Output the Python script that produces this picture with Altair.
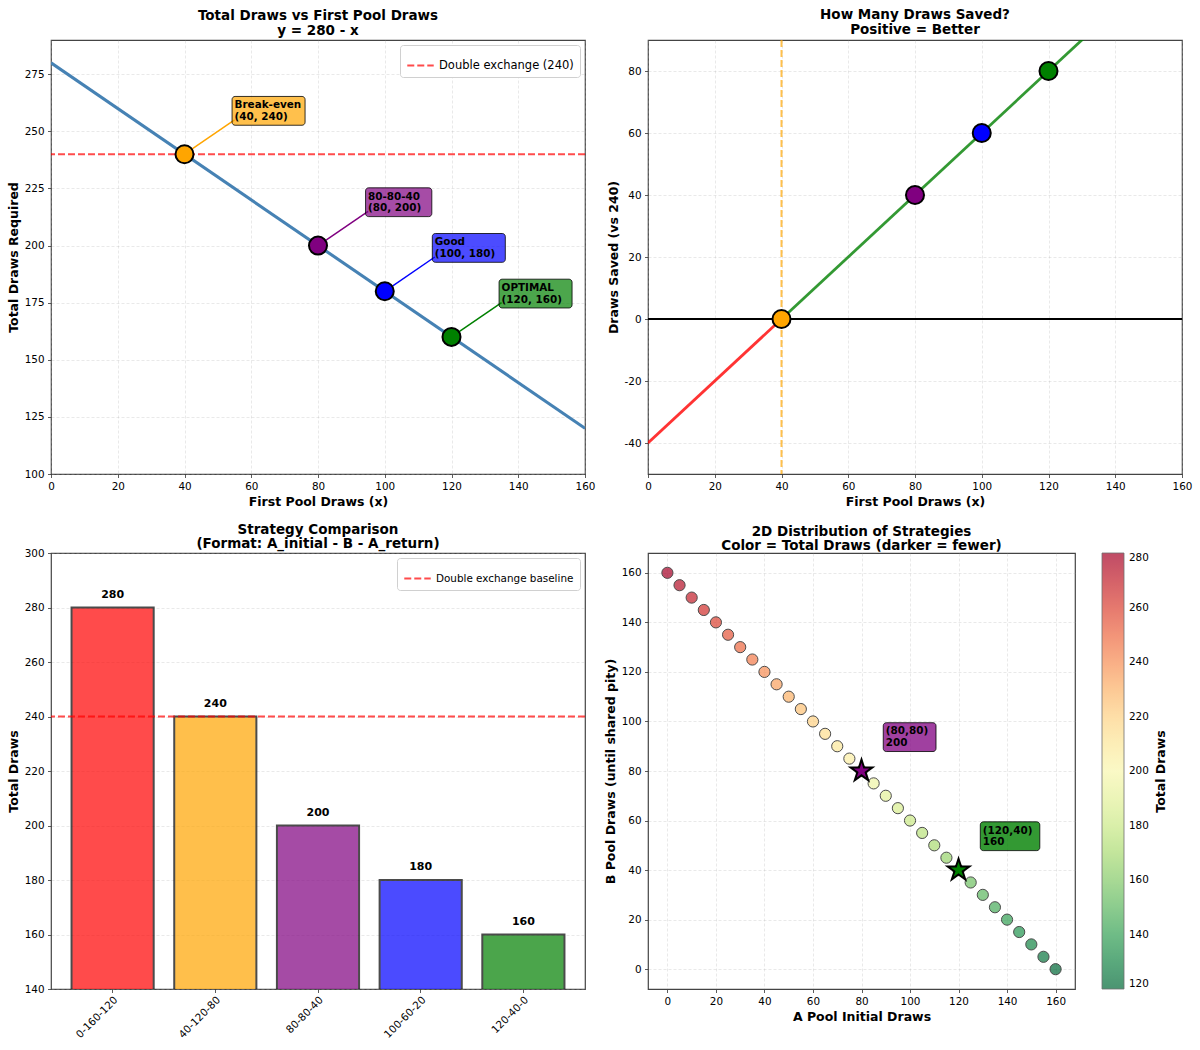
import math

import altair as alt
import pandas as pd

# ------------------------------------------------------------------ data
first_pool_span = [0, 160]
total_on_span = [280, 120]
double_exchange = 240

key_first_pool = [40, 80, 100, 120]
key_total = [240, 200, 180, 160]
key_saved = [0, 40, 60, 80]
key_names = ["Break-even", "80-80-40", "Good", "OPTIMAL"]
key_colors = ["orange", "purple", "blue", "green"]

loss_first_pool = [0, 40]
loss_saved = [-40, 0]
gain_first_pool = [40, 160]
gain_saved = [0, 120]

strategy_labels = ["0-160-120", "40-120-80", "80-80-40", "100-60-20", "120-40-0"]
strategy_totals = [280, 240, 200, 180, 160]
strategy_colors = ["red", "orange", "purple", "blue", "green"]

a_pool_initial = [0, 5, 10, 15, 20, 25, 30, 35, 40, 45, 50, 55, 60, 65, 70, 75, 80,
                  85, 90, 95, 100, 105, 110, 115, 120, 125, 130, 135, 140, 145, 150, 155, 160]
b_pool_draws = [160, 155, 150, 145, 140, 135, 130, 125, 120, 115, 110, 105, 100, 95, 90, 85, 80,
                75, 70, 65, 60, 55, 50, 45, 40, 35, 30, 25, 20, 15, 10, 5, 0]
pool_totals = [280, 275, 270, 265, 260, 255, 250, 245, 240, 235, 230, 225, 220, 215, 210, 205, 200,
               195, 190, 185, 180, 175, 170, 165, 160, 155, 150, 145, 140, 135, 130, 125, 120]

star_a = [80, 120]
star_b = [80, 40]
star_totals = [200, 160]
star_colors = ["purple", "green"]

# tick labels
draw_ticks = [0, 20, 40, 60, 80, 100, 120, 140, 160]
total_ticks = [100, 125, 150, 175, 200, 225, 250, 275]
saved_ticks = [-40, -20, 0, 20, 40, 60, 80]
bar_ticks = [140, 160, 180, 200, 220, 240, 260, 280, 300]
colorbar_ticks = [120, 140, 160, 180, 200, 220, 240, 260, 280]

# ------------------------------------------------------------------ style
FONT = "DejaVu Sans"
PLOT_W = 534
SCATTER_W = 427
TOP_H = 434
BOTTOM_H = 436
TICK_FS = 10.4
AXIS_TITLE_FS = 12.5
TITLE_FS = 13.5
NOTE_FS = 10.4
NOTE_LINE = 11.8
NOTE_CHAR_W = 6.75


def star_path(inner=0.381966):
    pts = []
    for i in range(10):
        ang = math.radians(-90 + 36 * i)
        r = 1.0 if i % 2 == 0 else inner
        pts.append(f"{r * math.cos(ang):.4f},{r * math.sin(ang):.4f}")
    return "M" + " L".join(pts) + " Z"


def panel_title(lines, offset=3):
    return alt.TitleParams(text=lines, anchor="middle", frame="group", fontSize=TITLE_FS,
                           fontWeight="bold", font=FONT, offset=offset, lineHeight=14.5, color="black")


def quant(channel, field, domain, ticks, title, grid=True):
    axis = alt.Axis(values=ticks, title=title, grid=grid, labelExpr="toString(datum.value)")
    return channel(f"{field}:Q", scale=alt.Scale(domain=domain, nice=False, zero=False), axis=axis)


def note(lx, ly, lines, fill, enc_x, enc_y, fill_opacity=0.7):
    """Two-line bold label inside a rounded box; last baseline sits at (lx, ly)."""
    width = max(len(s) for s in lines) * NOTE_CHAR_W
    df = pd.DataFrame({"lx": [lx], "ly": [ly], "top": [lines[0]], "bottom": [lines[1]]})
    base = alt.Chart(df)
    box = base.mark_rect(fill=fill, fillOpacity=fill_opacity, stroke="black", strokeWidth=0.8,
                         cornerRadius=3, xOffset=-2.5, x2Offset=width + 3,
                         yOffset=5.3, y2Offset=-23.5).encode(
        x=enc_x("lx"), x2=alt.X2("lx"), y=enc_y("ly"), y2=alt.Y2("ly"))
    txt = dict(align="left", baseline="alphabetic", font=FONT, fontSize=NOTE_FS,
               fontWeight="bold", color="black")
    t1 = base.mark_text(dy=-NOTE_LINE, **txt).encode(x=enc_x("lx"), y=enc_y("ly"), text="top:N")
    t2 = base.mark_text(**txt).encode(x=enc_x("lx"), y=enc_y("ly"), text="bottom:N")
    return [box, t1, t2]


def dashed_legend(font_size):
    return alt.Legend(title=None, orient="top-right", offset=5, padding=6,
                      symbolType="stroke", symbolDash=[7, 3], symbolStrokeWidth=2,
                      symbolSize=700, symbolOpacity=0.7, labelFontSize=font_size,
                      fillColor="white", strokeColor="#d0d0d0", cornerRadius=3)


# ------------------------------------------------------------------ panel 1: total vs first pool
def tl_x(f):
    return quant(alt.X, f, [0, 160], draw_ticks, "First Pool Draws (x)")


def tl_y(f):
    return quant(alt.Y, f, [100, 290], total_ticks, "Total Draws Required")


line_df = pd.DataFrame({"x": first_pool_span, "y": total_on_span})
key_df = pd.DataFrame({
    "x": key_first_pool, "y": key_total, "saved": key_saved, "color": key_colors,
    "lx": [v + 15 for v in key_first_pool], "ly": [v + 15 for v in key_total],
})
base_df = pd.DataFrame({"y": [double_exchange], "label": [f"Double exchange ({double_exchange})"]})

tl_layers = [
    alt.Chart(line_df).mark_line(color="steelblue", strokeWidth=3.1, clip=True).encode(
        x=tl_x("x"), y=tl_y("y")),
    alt.Chart(base_df).mark_rule(strokeDash=[7, 3], strokeWidth=2, opacity=0.7).encode(
        y=tl_y("y"),
        color=alt.Color("label:N", scale=alt.Scale(range=["red"]), legend=dashed_legend(11.5))),
    alt.Chart(key_df).mark_rule(strokeWidth=1.5).encode(
        x=tl_x("x"), y=tl_y("y"), x2=alt.X2("lx"), y2=alt.Y2("ly"),
        stroke=alt.Stroke("color:N", scale=None)),
    alt.Chart(key_df).mark_point(filled=True, size=325, stroke="black", strokeWidth=2, opacity=1).encode(
        x=tl_x("x"), y=tl_y("y"), fill=alt.Fill("color:N", scale=None)),
]
for name, xv, yv, col in zip(key_names, key_first_pool, key_total, key_colors):
    tl_layers += note(xv + 15, yv + 15, [name, f"({xv}, {yv})"], col, tl_x, tl_y)

tl = alt.layer(*tl_layers).properties(
    width=PLOT_W, height=TOP_H, title=panel_title(["Total Draws vs First Pool Draws", "y = 280 - x"]))


# ------------------------------------------------------------------ panel 2: draws saved
def tr_x(f):
    return quant(alt.X, f, [0, 160], draw_ticks, "First Pool Draws (x)")


def tr_y(f):
    return quant(alt.Y, f, [-50, 90], saved_ticks, "Draws Saved (vs 240)")


loss_df = pd.DataFrame({"x": loss_first_pool, "y": loss_saved})
gain_df = pd.DataFrame({"x": gain_first_pool, "y": gain_saved})
zero_df = pd.DataFrame({"y": [0]})
even_df = pd.DataFrame({"x": [key_first_pool[0]]})

tr = alt.layer(
    alt.Chart(even_df).mark_rule(color="orange", strokeDash=[7, 3], strokeWidth=2, opacity=0.7).encode(
        x=tr_x("x")),
    alt.Chart(zero_df).mark_rule(color="black", strokeWidth=2).encode(y=tr_y("y")),
    alt.Chart(loss_df).mark_line(color="red", strokeWidth=2.8, opacity=0.8, clip=True).encode(
        x=tr_x("x"), y=tr_y("y")),
    alt.Chart(gain_df).mark_line(color="green", strokeWidth=2.8, opacity=0.8, clip=True).encode(
        x=tr_x("x"), y=tr_y("y")),
    alt.Chart(key_df).mark_point(filled=True, size=325, stroke="black", strokeWidth=2, opacity=1).encode(
        x=tr_x("x"), y=tr_y("saved"), fill=alt.Fill("color:N", scale=None)),
).properties(width=PLOT_W, height=TOP_H,
             title=panel_title(["How Many Draws Saved?", "Positive = Better"]))

# ------------------------------------------------------------------ panel 3: strategy bars
bar_df = pd.DataFrame({"strategy": strategy_labels, "total": strategy_totals, "color": strategy_colors})
bar_x = alt.X("strategy:N", sort=strategy_labels,
              scale=alt.Scale(paddingInner=0.2, paddingOuter=0.2),
              axis=alt.Axis(title=None, labelAngle=-45, labelAlign="right", labelBaseline="top",
                            grid=False, labelPadding=2))


def bl_y(f):
    return quant(alt.Y, f, [140, 300], bar_ticks, "Total Draws")


bl_base_df = pd.DataFrame({"y": [double_exchange], "label": ["Double exchange baseline"]})
bl = alt.layer(
    alt.Chart(bar_df).mark_bar(opacity=0.7, stroke="black", strokeWidth=2, clip=True).encode(
        x=bar_x, y=bl_y("total"), fill=alt.Fill("color:N", scale=None)),
    alt.Chart(bl_base_df).mark_rule(strokeDash=[7, 3], strokeWidth=2, opacity=0.7).encode(
        y=bl_y("y"),
        color=alt.Color("label:N", scale=alt.Scale(range=["red"]), legend=dashed_legend(10.4))),
    alt.Chart(bar_df).mark_text(baseline="bottom", dy=-8, font=FONT, fontSize=11,
                                fontWeight="bold", color="black").encode(
        x=bar_x, y=bl_y("total"), text=alt.Text("total:Q", format="d")),
).properties(width=PLOT_W, height=BOTTOM_H,
             title=panel_title(["Strategy Comparison", "(Format: A_initial - B - A_return)"], offset=-2.5))


# ------------------------------------------------------------------ panel 4: 2D distribution
def br_x(f):
    return quant(alt.X, f, [-8, 168], draw_ticks, "A Pool Initial Draws")


def br_y(f):
    return quant(alt.Y, f, [-8, 168], draw_ticks, "B Pool Draws (until shared pity)")


pool_df = pd.DataFrame({"a": a_pool_initial, "b": b_pool_draws, "total": pool_totals})
star_df = pd.DataFrame({"a": star_a, "b": star_b, "total": star_totals, "color": star_colors})

total_scale = alt.Scale(scheme="redyellowgreen", reverse=True, domain=[120, 280])

br_layers = [
    alt.Chart(pool_df).mark_point(shape="circle", filled=True, size=125, opacity=0.7,
                                  stroke="black", strokeWidth=1).encode(
        x=br_x("a"), y=br_y("b"),
        color=alt.Color("total:Q", scale=total_scale,
                        legend=alt.Legend(title=None, orient="none", legendX=SCATTER_W + 27, legendY=0,
                                          padding=0, direction="vertical",
                                          gradientLength=BOTTOM_H, gradientThickness=22,
                                          values=colorbar_ticks, labelFontSize=TICK_FS, labelOffset=5,
                                          labelBaseline="middle",
                                          gradientStrokeColor="#333", gradientStrokeWidth=0.8))),
    alt.Chart(star_df).mark_point(shape=star_path(), filled=True, size=520, stroke="black",
                                  strokeWidth=2, opacity=1).encode(
        x=br_x("a"), y=br_y("b"), fill=alt.Fill("color:N", scale=None)),
]
for av, bv, tv, col, op in zip(star_a, star_b, star_totals, star_colors, [0.75, 0.8]):
    br_layers += note(av + 10, bv + 10, [f"({av},{bv})", f"{tv}"], col, br_x, br_y, fill_opacity=op)

scatter = alt.layer(*br_layers)

# colour-bar caption, carried by a right-hand axis on the total-draws scale
caption = alt.Chart(pool_df).mark_point(opacity=0).encode(
    x=br_x("a"),
    y=alt.Y("total:Q", scale=alt.Scale(domain=[120, 280], nice=False, zero=False),
            axis=alt.Axis(orient="right", title="Total Draws", labels=False, ticks=False,
                          grid=False, domain=False, titleAngle=270, titlePadding=92)))

br = alt.layer(scatter, caption).resolve_scale(y="independent").properties(
    width=SCATTER_W, height=BOTTOM_H,
    title=panel_title(["2D Distribution of Strategies", "Color = Total Draws (darker = fewer)"],
                      offset=-2.5))

# ------------------------------------------------------------------ figure
chart = alt.concat(
    tl, tr, bl, br, columns=2, spacing={"row": 79, "column": 63}, bounds="flush"
).resolve_scale(color="independent").properties(
    padding={"left": 6, "top": 7, "right": 5, "bottom": 5}
).configure(font=FONT, background="white").configure_view(
    stroke="#444", strokeWidth=1.2
).configure_axis(
    labelFont=FONT, labelFontSize=TICK_FS, labelColor="black", labelFlush=False,
    titleFont=FONT, titleFontSize=AXIS_TITLE_FS, titleFontWeight="bold", titleColor="black",
    titlePadding=4, tickColor="#333", tickSize=3.5, tickWidth=0.8, labelPadding=3.5,
    domain=False, gridColor="#b0b0b0", gridOpacity=0.35, gridDash=[3, 2], gridWidth=0.8,
).configure_legend(
    labelFont=FONT, titleFont=FONT, labelColor="black", titleColor="black"
)

chart.save("out.html", embed_options={"renderer": "svg", "actions": False})
